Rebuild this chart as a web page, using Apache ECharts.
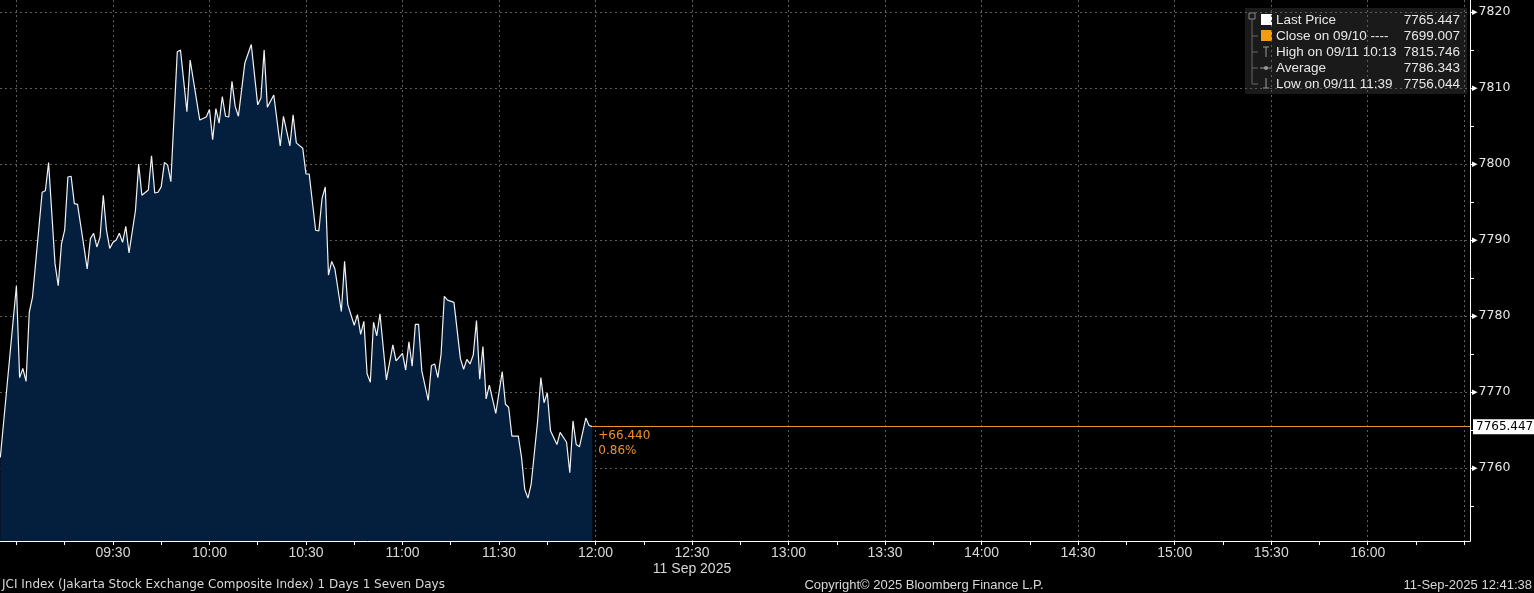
<!DOCTYPE html>
<html><head><meta charset="utf-8">
<script src="https://cdn.jsdelivr.net/npm/echarts@6/dist/echarts.min.js"></script>
<style>html,body{margin:0;padding:0;background:#000;overflow:hidden}#c{width:1534px;height:593px}</style>
</head><body><div id="c"></div>
<script>
// ---------- data ----------
const times = ['08:55','09:00','09:01','09:02','09:03','09:04','09:05','09:08','09:09','09:10','09:12','09:13','09:14','09:15','09:16','09:17','09:18','09:19','09:21','09:22','09:23','09:24','09:25','09:26','09:27','09:28','09:29','09:30','09:31','09:32','09:33','09:34','09:35','09:37','09:38','09:39','09:41','09:42','09:43','09:44','09:45','09:46','09:47','09:48','09:50','09:51','09:53','09:54','09:57','09:59','10:00','10:01','10:02','10:03','10:04','10:05','10:06','10:07','10:08','10:09','10:11','10:13','10:15','10:16','10:17','10:18','10:20','10:22','10:23','10:25','10:26','10:27','10:29','10:30','10:31','10:33','10:34','10:35','10:36','10:37','10:38','10:39','10:41','10:42','10:43','10:45','10:46','10:47','10:48','10:49','10:50','10:51','10:52','10:53','10:55','10:57','10:58','11:00','11:01','11:02','11:03','11:04','11:05','11:06','11:08','11:09','11:10','11:11','11:12','11:13','11:14','11:16','11:18','11:19','11:20','11:21','11:22','11:23','11:24','11:25','11:26','11:27','11:29','11:31','11:32','11:33','11:34','11:36','11:37','11:38','11:39','11:40','11:42','11:43','11:44','11:45','11:46','11:48','11:49','11:51','11:52','11:53','11:54','11:55','11:57','11:58','11:59'];
const prices = [7761.4,7784.0,7771.9,7773.1,7771.4,7780.5,7782.5,7796.3,7796.5,7800.2,7786.9,7784.0,7789.5,7791.3,7798.3,7798.4,7794.8,7794.7,7789.1,7786.2,7790.2,7790.9,7789.1,7790.4,7795.9,7791.3,7788.9,7789.7,7790.0,7790.9,7789.7,7791.8,7788.3,7793.9,7800.0,7795.9,7796.6,7801.1,7796.2,7796.3,7797.0,7800.2,7799.9,7797.7,7814.8,7815.0,7806.9,7813.7,7805.8,7806.2,7807.2,7803.2,7807.3,7805.4,7808.9,7806.3,7806.2,7810.9,7807.6,7806.3,7813.3,7815.746,7807.8,7808.7,7815.0,7807.5,7809.1,7802.4,7806.3,7802.4,7806.5,7802.8,7802.1,7798.7,7798.7,7791.3,7791.2,7795.5,7797.0,7785.4,7787.2,7786.2,7780.6,7787.2,7781.5,7778.8,7780.2,7777.6,7779.3,7772.4,7771.3,7779.2,7777.4,7780.3,7771.6,7776.2,7774.1,7775.1,7772.9,7776.6,7773.4,7778.9,7778.9,7772.8,7768.9,7773.5,7773.7,7771.9,7775.0,7782.6,7782.1,7781.8,7774.4,7773.0,7774.3,7773.7,7774.9,7779.4,7771.7,7776.0,7769.1,7770.9,7767.2,7772.7,7768.4,7768.0,7764.2,7764.2,7761.4,7757.2,7756.044,7757.9,7766.2,7771.9,7768.6,7769.9,7764.9,7763.1,7764.7,7763.4,7759.4,7766.2,7763.1,7762.8,7766.6,7765.6,7765.447];

const yLabelValues = [7760,7770,7780,7790,7800,7810,7820];
const yTickValues = [7755,7760,7765,7770,7775,7780,7785,7790,7795,7800,7805,7810,7815,7820];
const xLabelTimes = ['09:30','10:00','10:30','11:00','11:30','12:00','12:30','13:00','13:30','14:00','14:30','15:00','15:30','16:00'];
const xTickTimes = ['09:00','09:15','09:30','09:45','10:00','10:15','10:30','10:45','11:00','11:15','11:30','11:45','12:00','12:15','12:30','12:45','13:00','13:15','13:30','13:45','14:00','14:15','14:30','14:45','15:00','15:15','15:30','15:45','16:00','16:15','16:30'];
const xGridTimes = ['09:00','09:30','10:00','10:30','11:00','11:30','12:00','12:30','13:00','13:30','14:00','14:30','15:00','15:30','16:00','16:30'];
const dateLabel = '11 Sep 2025';
const dateLabelAt = '12:30';

const lastPrice = 7765.447;
const netChange = '+66.440';
const pctChange = '0.86%';

const legendLabels = ['Last Price','Close on 09/10 ----','High on 09/11 10:13','Average','Low on 09/11 11:39'];
const legendValues = ['7765.447','7699.007','7815.746','7786.343','7756.044'];

const footerLeft = 'JCI Index (Jakarta Stock Exchange Composite Index) 1 Days 1 Seven Days';
const footerCenter = 'Copyright\u00a9 2025 Bloomberg Finance L.P.';
const footerRight = '11-Sep-2025 12:41:38';

// ---------- helpers ----------
function toMin(t){const p=t.split(':');return (+p[0])*60+(+p[1]);}
function fmtMin(v){const h=Math.floor(v/60),m=Math.round(v-h*60);return String(h).padStart(2,'0')+':'+String(m).padStart(2,'0');}

const X_MIN = 534.9, X_MAX = 991.8;
const Y_MIN = 7750.4, Y_MAX = 7821.6;

const seriesData = times.map((t,i)=>[toMin(t), prices[i]]);
const lastX = toMin(times[times.length-1]);

const NARROW = '"Liberation Sans Narrow", "Liberation Sans", Arial, sans-serif';
const SANS = '"DejaVu Sans", sans-serif';
const LIB = '"Liberation Sans", Arial, sans-serif';
const AXIS_TXT = '#d8d8d8';
const GRID = '#5c5c5c';
const ORANGE = '#f0902a';

// legend graphic
const lg = [];
const lgLeft = 1245, lgTop = 8, rowH = 16;
lg.push({type:'rect', shape:{x:lgLeft,y:lgTop,width:222,height:86}, style:{fill:'rgba(28,28,28,0.92)'}, silent:true});
lg.push({type:'rect', shape:{x:1249,y:13,width:6,height:6}, style:{fill:'none',stroke:'#888',lineWidth:1}});
lg.push({type:'line', shape:{x1:1252,y1:19,x2:1252,y2:84}, style:{stroke:'#666',lineWidth:1}});
for(let i=0;i<legendLabels.length;i++){
  const cy = lgTop + 12 + i*rowH;
  if(i>0) lg.push({type:'line', shape:{x1:1252,y1:cy,x2:1258,y2:cy}, style:{stroke:'#666',lineWidth:1}});
  lg.push({type:'text', style:{text:legendLabels[i], x:1276, y:cy, fill:'#e8e8e8', font:'13.5px '+LIB, textVerticalAlign:'middle'}});
  lg.push({type:'text', style:{text:legendValues[i], x:1460, y:cy, fill:'#e8e8e8', font:'13.5px '+LIB, textAlign:'right', textVerticalAlign:'middle'}});
}
lg.push({type:'rect', shape:{x:1261,y:lgTop+6,width:11,height:11}, style:{fill:'#ffffff'}});
lg.push({type:'rect', shape:{x:1261,y:lgTop+22,width:11,height:11}, style:{fill:'#f39c12'}});
lg.push({type:'line', shape:{x1:1263,y1:lgTop+39,x2:1269,y2:lgTop+39}, style:{stroke:'#999',lineWidth:1}});
lg.push({type:'line', shape:{x1:1266,y1:lgTop+39,x2:1266,y2:lgTop+49}, style:{stroke:'#999',lineWidth:1}});
lg.push({type:'line', shape:{x1:1260,y1:lgTop+60,x2:1272,y2:lgTop+60}, style:{stroke:'#999',lineWidth:1}});
lg.push({type:'circle', shape:{cx:1266,cy:lgTop+60,r:2}, style:{fill:'#999'}});
lg.push({type:'line', shape:{x1:1266,y1:lgTop+70,x2:1266,y2:lgTop+80}, style:{stroke:'#999',lineWidth:1}});
lg.push({type:'line', shape:{x1:1263,y1:lgTop+80,x2:1269,y2:lgTop+80}, style:{stroke:'#999',lineWidth:1}});

const chart = echarts.init(document.getElementById('c'), null, {renderer:'canvas'});
chart.setOption({
  backgroundColor:'#000',
  animation:false,
  grid:{left:0,right:64,top:0,bottom:52,containLabel:false},
  xAxis:[{
    type:'value', min:X_MIN, max:X_MAX, position:'bottom',
    axisLine:{show:true,onZero:false,lineStyle:{color:'#ffffff',width:1}},
    axisTick:{show:true,length:4,customValues:xTickTimes.map(toMin),lineStyle:{color:'#ffffff'}},
    axisLabel:{show:true,customValues:xLabelTimes.map(toMin),color:AXIS_TXT,fontFamily:NARROW,fontSize:14,margin:4,lineHeight:16,
      formatter:v=>fmtMin(v)===dateLabelAt ? fmtMin(v)+'\n'+dateLabel : fmtMin(v)},
    splitLine:{show:false}
  },{
    type:'value', min:X_MIN, max:X_MAX, position:'bottom',
    axisLine:{show:false}, axisLabel:{show:false},
    axisTick:{show:false,customValues:xGridTimes.map(toMin)},
    splitLine:{show:true,lineStyle:{color:GRID,type:[2,3],width:1}}
  }],
  yAxis:[{
    type:'value', min:Y_MIN, max:Y_MAX, position:'right',
    axisLine:{show:true,lineStyle:{color:'#ffffff',width:1}},
    axisTick:{show:true,length:4,customValues:yTickValues,lineStyle:{color:'#ffffff'}},
    axisLabel:{show:true,customValues:yLabelValues,color:'#e6e6e6',fontFamily:SANS,fontSize:12.5,margin:2,
      formatter:v=>'{a|\u25B8}'+v, rich:{a:{color:'#ffffff',fontSize:11,padding:[0,1,0,0]}}},
    splitLine:{show:false}
  },{
    type:'value', min:Y_MIN, max:Y_MAX, position:'right',
    axisLine:{show:false}, axisLabel:{show:false},
    axisTick:{show:false,customValues:yLabelValues},
    splitLine:{show:true,lineStyle:{color:GRID,type:[2,3],width:1}}
  }],
  series:[{
    type:'line', xAxisIndex:0, yAxisIndex:0, data:seriesData,
    showSymbol:false, symbol:'none',
    lineStyle:{color:'#f2f2f2',width:1.2},
    areaStyle:{color:'#041f3e',origin:'start',opacity:1},
    z:3,
    markLine:{
      silent:true, symbol:'none', animation:false,
      lineStyle:{color:ORANGE,width:1,type:'solid'},
      data:[
        [{coord:[lastX,lastPrice],label:{show:true,position:'end',formatter:String(lastPrice),color:'#000',backgroundColor:'#ffffff',padding:[2,3,1,3],fontFamily:SANS,fontSize:12,distance:3}},{coord:[X_MAX,lastPrice]}],
        [{coord:[lastX,lastPrice],label:{show:true,position:'insideStartBottom',formatter:netChange+'\n'+pctChange,color:ORANGE,fontFamily:SANS,fontSize:12,lineHeight:15,align:'left',distance:[6,2]}},{coord:[X_MAX,lastPrice]}]
      ]
    }
  }],
  graphic:[
    ...lg,
    {type:'text', style:{text:footerLeft,x:2,y:585,fill:AXIS_TXT,font:'12px '+SANS,textVerticalAlign:'middle'}},
    {type:'text', style:{text:footerCenter,x:924,y:585,fill:AXIS_TXT,font:'13px '+NARROW,textAlign:'center',textVerticalAlign:'middle'}},
    {type:'text', style:{text:footerRight,x:1532,y:585,fill:AXIS_TXT,font:'13px '+NARROW,textAlign:'right',textVerticalAlign:'middle'}}
  ]
});
</script></body></html>
